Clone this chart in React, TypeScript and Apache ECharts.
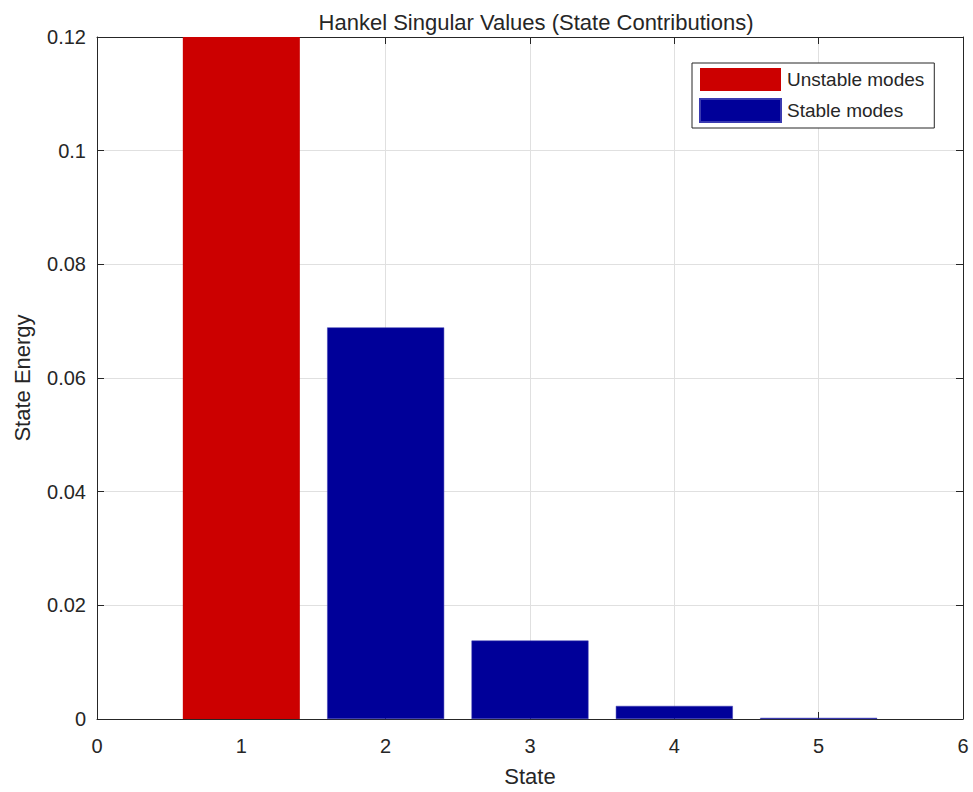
import React, { useEffect, useRef } from "react";
import * as echarts from "echarts";

const xTicks = [0, 1, 2, 3, 4, 5, 6];
const yTickStep = 0.02;
const yMax = 0.12;
const unstableStates = [1];
const unstableValues = [0.2];
const stableStates = [2, 3, 4, 5];
const stableValues = [0.0689, 0.0138, 0.0023, 0.0002];

const FONT = '"Liberation Sans", Arial, Helvetica, sans-serif';
const DARK = "#262626";

export default function App() {
  const ref = useRef<HTMLDivElement>(null);
  useEffect(() => {
    if (!ref.current) return;
    const chart = echarts.init(ref.current, undefined, { renderer: "svg" });
    const axisCommon = {
      type: "value" as const,
      axisLine: { show: true, onZero: false, lineStyle: { color: DARK, width: 1 } },
      axisTick: { show: true, inside: true, length: 7, lineStyle: { color: DARK, width: 1 } },
    };
    chart.setOption({
      animation: false,
      backgroundColor: "#ffffff",
      textStyle: { fontFamily: FONT },
      title: {
        text: "Hankel Singular Values (State Contributions)",
        left: 531,
        textAlign: "center",
        top: 6,
        textStyle: { fontFamily: FONT, fontSize: 22, fontWeight: "normal", color: DARK },
      },
      legend: {
        orient: "vertical",
        left: 692,
        top: 63,
        padding: [5, 10, 5, 7],
        itemGap: 7,
        itemWidth: 81,
        itemHeight: 23,
        icon: "rect",
        selectedMode: false,
        backgroundColor: "#ffffff",
        borderColor: DARK,
        borderWidth: 1,
        borderRadius: 0,
        textStyle: { fontFamily: FONT, fontSize: 19, color: DARK, padding: [0, 0, 0, 1] },
        data: ["Unstable modes", "Stable modes"],
      },
      grid: { left: 97, right: 10, top: 37, bottom: 70, containLabel: false },
      xAxis: [
        {
          ...axisCommon,
          position: "bottom",
          min: xTicks[0],
          max: xTicks[xTicks.length - 1],
          interval: 1,
          name: "State",
          nameLocation: "middle",
          nameGap: 46,
          nameTextStyle: { fontFamily: FONT, fontSize: 22, color: DARK },
          axisLabel: { show: true, margin: 17, fontFamily: FONT, fontSize: 20, color: DARK },
          splitLine: { show: true, lineStyle: { color: "#e0e0e0", width: 1 } },
        },
        {
          ...axisCommon,
          position: "top",
          min: xTicks[0],
          max: xTicks[xTicks.length - 1],
          interval: 1,
          axisLabel: { show: false },
          splitLine: { show: false },
        },
      ],
      yAxis: [
        {
          ...axisCommon,
          position: "left",
          min: 0,
          max: yMax,
          interval: yTickStep,
          name: "State Energy",
          nameLocation: "middle",
          nameGap: 64,
          nameTextStyle: { fontFamily: FONT, fontSize: 22, color: DARK },
          axisLabel: {
            show: true,
            margin: 11,
            fontFamily: FONT,
            fontSize: 20,
            color: DARK,
            showMinLabel: true,
            showMaxLabel: true,
            formatter: (v: number) => String(parseFloat(v.toFixed(4))),
          },
          splitLine: { show: true, lineStyle: { color: "#e0e0e0", width: 1 } },
        },
        {
          ...axisCommon,
          position: "right",
          min: 0,
          max: yMax,
          interval: yTickStep,
          axisLabel: { show: false },
          splitLine: { show: false },
        },
      ],
      series: [
        {
          name: "Unstable modes",
          type: "bar",
          xAxisIndex: 0,
          yAxisIndex: 0,
          barWidth: 117,
          barGap: "-100%",
          clip: true,
          itemStyle: { color: "#cc0000" },
          data: unstableStates.map((s, i) => [s, unstableValues[i]]),
        },
        {
          name: "Stable modes",
          type: "bar",
          xAxisIndex: 0,
          yAxisIndex: 0,
          barWidth: 117,
          barGap: "-100%",
          clip: true,
          itemStyle: { color: "#000099", borderColor: "#3a3ab0", borderWidth: 0.5 },
          data: stableStates.map((s, i) => [s, stableValues[i]]),
        },
      ],
    });
    return () => chart.dispose();
  }, []);
  return (
    <div
      ref={ref}
      style={{ position: "absolute", left: 0, top: 0, width: 973, height: 792 }}
    />
  );
}
